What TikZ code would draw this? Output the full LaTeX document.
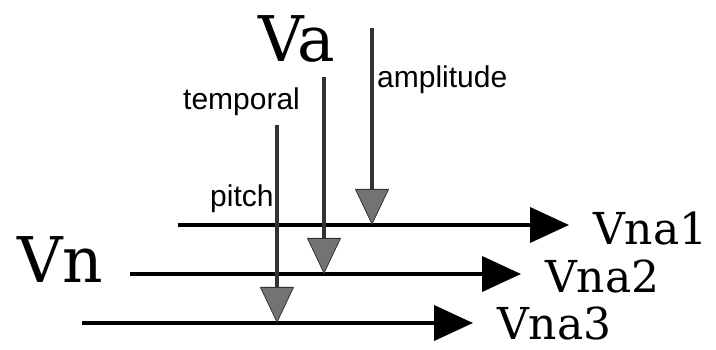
\documentclass[tikz,border=0pt]{standalone}
\usepackage{fontspec}
\newfontfamily\labelfont{Liberation Sans}
\newfontfamily\signalfont{DejaVu Serif}
\usetikzlibrary{arrows.meta}
\definecolor{stipple}{gray}{0.45}
\definecolor{shaft}{gray}{0.2}
\tikzset{
  bigv/.style={anchor=base west,inner sep=0pt,font=\signalfont\fontsize{63}{63}\selectfont},
  outv/.style={anchor=base west,inner sep=0pt,font=\signalfont\fontsize{44}{44}\selectfont},
  cue/.style={anchor=base west,inner sep=0pt,font=\labelfont\fontsize{30}{30}\selectfont},
  track/.style={line width=4pt,-{Triangle[length=39pt,width=35pt]}},
  feed/.style={line width=4pt,draw=shaft,
    -{Triangle[length=36pt,width=34pt,color=shaft,fill=stipple,line width=0.8pt]}}
}
\begin{document}
\begin{tikzpicture}[x=1pt,y=-1pt]
   \useasboundingbox (0,0) rectangle (716,350);
   \node[bigv] (va) at (258,62) {Va};
   \node[bigv] (vn) at (17,283) {Vn};
   \node[outv] (vna1) at (593,245) {Vna1};
   \node[outv] (vna2) at (545,293) {Vna2};
   \node[outv] (vna3) at (497,339) {Vna3};
   \node[cue] (amp) at (377,88) {amplitude};
   \node[cue] (temp) at (183,110) {temporal};
   \node[cue] (pitch) at (210,207) {pitch};
   % input tracks
   \coordinate (s1) at (178,225); \coordinate (t1) at (569,225);
   \coordinate (s2) at (130,274); \coordinate (t2) at (521,274);
   \coordinate (s3) at (82,323);  \coordinate (t3) at (473,323);
   \draw[track] (s1)--(t1);
   \draw[track] (s2)--(t2);
   \draw[track] (s3)--(t3);
   % cues from Va
   \coordinate (a1) at (372,28);  \coordinate (h1) at (372,225);
   \coordinate (a2) at (324,77);  \coordinate (h2) at (324,274);
   \coordinate (a3) at (277,125); \coordinate (h3) at (277,323);
   \draw[feed] (a1)--(h1);
   \draw[feed] (a2)--(h2);
   \draw[feed] (a3)--(h3);
\end{tikzpicture}
\end{document}
